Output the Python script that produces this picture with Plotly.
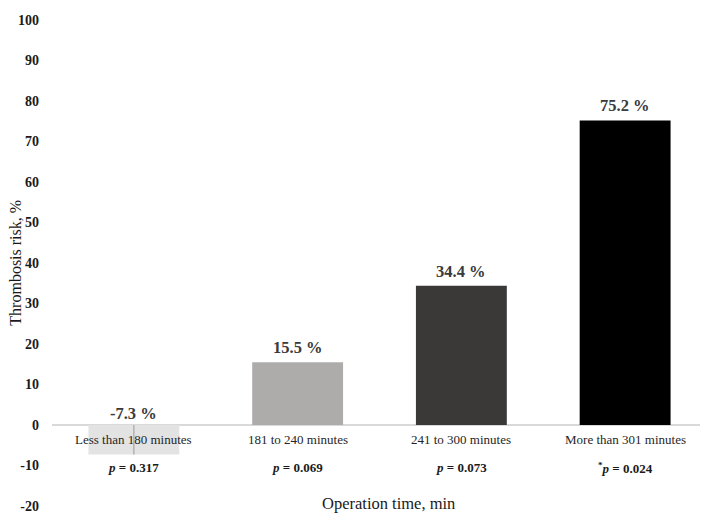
import plotly.graph_objects as go

categories = ['Less than 180 minutes', '181 to 240 minutes', '241 to 300 minutes', 'More than 301 minutes']
risk = [-7.3, 15.5, 34.4, 75.2]
p_values = ['0.317', '0.069', '0.073', '0.024']
significant = [False, False, False, True]
bar_colors = ['#e3e3e3', '#aeabab', '#3b3838', '#000000']
y_ticks = [-20, -10, 0, 10, 20, 30, 40, 50, 60, 70, 80, 90, 100]
y_tick_text = ['-20', '-10', '0', '10', '20', '30', '40', '50', '60', '70', '80', '90', '100']

SERIF = 'Liberation Serif, Times New Roman, serif'

fig = go.Figure()
fig.add_trace(go.Bar(
    x=categories, y=risk,
    marker=dict(color=bar_colors, line=dict(width=0)),
    # thin grey stroke seen in the middle of the first bar
    error_y=dict(type='data', symmetric=False,
                 array=[-risk[0], 0, 0, 0], arrayminus=[0, 0, 0, 0],
                 color='#9a9a9a', thickness=1, width=0),
    showlegend=False,
))

ann = []
for cat, v, p, sig in zip(categories, risk, p_values, significant):
    ann.append(dict(x=cat, y=max(v, 0), yref='y', xref='x', yanchor='bottom',
                    yshift=3 if v > 0 else 0,
                    text='<b>%.1f %%</b>' % v, showarrow=False,
                    font=dict(family=SERIF, size=16.5, color='#3a3a3a')))
    ann.append(dict(x=cat, y=-3.7, yref='y', xref='x', text=cat, showarrow=False,
                    font=dict(family=SERIF, size=13, color='#262626')))
    star = '<sup>*</sup>' if sig else ''
    ann.append(dict(x=cat, y=-10.6, yref='y', xref='x', showarrow=False,
                    text='<b>%s<i>p</i> = %s</b>' % (star, p),
                    font=dict(family=SERIF, size=13, color='#1a1a1a')))
ann.append(dict(x=0.513, xref='paper', y=-19.3, yref='y', text='Operation time, min',
                showarrow=False, font=dict(family=SERIF, size=16.5, color='#1a1a1a')))
ann.append(dict(x=-0.057, xref='paper', xanchor='center', y=0.5, yref='paper',
                yanchor='middle', text='Thrombosis risk, %', textangle=-90, showarrow=False,
                font=dict(family=SERIF, size=16, color='#1a1a1a')))

# page body has an 8px margin, so the figure is 8px smaller than the window
fig.update_layout(
    width=700, height=514,
    margin=dict(l=44, r=1, t=12, b=16, autoexpand=False),
    paper_bgcolor='white', plot_bgcolor='white',
    bargap=0.445,
    annotations=ann,
    xaxis=dict(showticklabels=False, showgrid=False, showline=False, ticks='',
               automargin=False),
    yaxis=dict(range=[-20, 100], tickvals=y_ticks, ticktext=y_tick_text,
               showgrid=False, showline=False, automargin=False,
               zeroline=True, zerolinecolor='#d9d9d9', zerolinewidth=1.5,
               ticks='', ticklabelstandoff=12,
               tickfont=dict(family=SERIF, size=14, color='#1a1a1a', weight='bold')),
)

fig.write_html('out.html')
